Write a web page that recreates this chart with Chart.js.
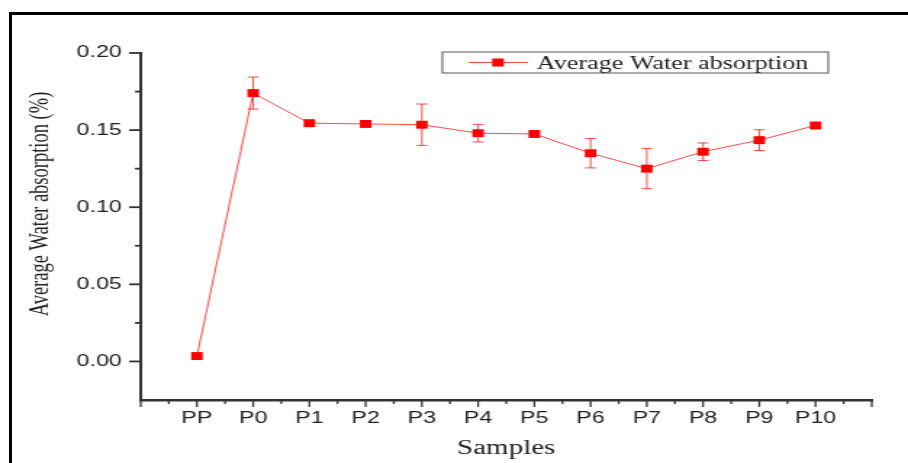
<!DOCTYPE html>
<html>
<head>
<meta charset="utf-8">
<script src="https://cdn.jsdelivr.net/npm/chart.js@4/dist/chart.umd.min.js"></script>
<style>
  html, body { margin: 0; padding: 0; background: #fff; }
  body { width: 908px; height: 463px; overflow: hidden; position: relative; }
  /* the source figure is stretched sideways, so draw narrow and stretch */
  #stretch { position: absolute; left: 0; top: 0; width: 626px; height: 463px; transform: scaleX(1.4505); transform-origin: 0 0; }
  #frame { position: absolute; left: 9px; top: 12px; right: -10px; bottom: -10px; border-top: 3.5px solid #000; border-left: 3.5px solid #000; pointer-events: none; }
</style>
</head>
<body>
<div id="stretch"><canvas id="chart" width="626" height="463" style="width:626px;height:463px"></canvas></div>
<div id="frame"></div>
<script>
const samples = ['PP', 'P0', 'P1', 'P2', 'P3', 'P4', 'P5', 'P6', 'P7', 'P8', 'P9', 'P10'];
const avgAbsorption = [0.0035, 0.174, 0.1545, 0.154, 0.1535, 0.148, 0.1475, 0.135, 0.125, 0.136, 0.1435, 0.153];
const absorptionErr = [0.001, 0.0104, 0.0015, 0.0015, 0.0134, 0.0057, 0.0015, 0.0095, 0.013, 0.0057, 0.0067, 0.0015];
const yTicks = [0, 0.05, 0.10, 0.15, 0.20];

const seriesName = 'Average Water absorption';
const yTitle = 'Average Water absorption (%)';
const xTitle = 'Samples';

const RED = '#ff0000';
const LINE_RED = 'rgba(255,30,30,0.8)';
const INK = '#222';

// error bars, drawn under the markers
const errorBars = {
  id: 'errorBars',
  beforeDatasetsDraw(chart) {
    const { ctx, scales: { x, y } } = chart;
    ctx.save();
    ctx.strokeStyle = LINE_RED;
    ctx.lineWidth = 1;
    avgAbsorption.forEach((v, i) => {
      const e = absorptionErr[i];
      const px = x.getPixelForValue(i + 1);
      const top = y.getPixelForValue(v + e);
      const bot = y.getPixelForValue(v - e);
      ctx.beginPath();
      ctx.moveTo(px, top); ctx.lineTo(px, bot);
      ctx.moveTo(px - 3.8, top); ctx.lineTo(px + 3.8, top);
      ctx.moveTo(px - 3.8, bot); ctx.lineTo(px + 3.8, bot);
      ctx.stroke();
    });
    ctx.restore();
  }
};

// Origin-style tick marks (major + minor, outward)
const axisTicks = {
  id: 'axisTicks',
  afterDraw(chart) {
    const { ctx, chartArea: a, scales: { x, y } } = chart;
    ctx.save();
    ctx.strokeStyle = '#333';
    ctx.lineWidth = 1.8;
    for (let k = 1; k <= 9; k++) {
      const py = y.getPixelForValue(-0.025 + k * 0.025);
      const len = k % 2 ? 8 : 4;
      ctx.beginPath(); ctx.moveTo(a.left, py); ctx.lineTo(a.left - len, py); ctx.stroke();
    }
    ctx.lineWidth = 1.3;
    for (let k = 0; k <= 26; k++) {
      const px = x.getPixelForValue(k * 0.5);
      const len = k % 2 ? 4 : 7;
      ctx.beginPath(); ctx.moveTo(px, a.bottom); ctx.lineTo(px, a.bottom + len); ctx.stroke();
    }
    ctx.restore();
  }
};

// axis titles and boxed legend
const labels = {
  id: 'labels',
  afterDraw(chart) {
    const { ctx, chartArea: a } = chart;
    ctx.save();
    ctx.fillStyle = INK;
    ctx.font = '18.5px "Liberation Serif"';
    ctx.textAlign = 'center';
    ctx.textBaseline = 'alphabetic';
    ctx.translate(33, 204);
    ctx.rotate(-Math.PI / 2);
    ctx.fillText(yTitle, 0, 0);
    ctx.restore();

    ctx.save();
    ctx.fillStyle = INK;
    ctx.font = '20px "Liberation Serif"';
    ctx.textAlign = 'center';
    ctx.textBaseline = 'alphabetic';
    ctx.fillText(xTitle, (a.left + a.right) / 2, 454);

    // legend
    ctx.strokeStyle = '#555';
    ctx.lineWidth = 1;
    ctx.strokeRect(305, 52, 266, 21);
    ctx.strokeStyle = LINE_RED;
    ctx.beginPath(); ctx.moveTo(323, 62.5); ctx.lineTo(364, 62.5); ctx.stroke();
    ctx.fillStyle = RED;
    ctx.fillRect(339.3, 58.5, 8, 8);
    ctx.fillStyle = INK;
    ctx.font = '18px "Liberation Serif"';
    ctx.textAlign = 'left';
    ctx.fillText(seriesName, 370, 68.5);
    ctx.restore();
  }
};

new Chart(document.getElementById('chart'), {
  type: 'line',
  data: {
    datasets: [{
      label: seriesName,
      data: avgAbsorption.map((v, i) => ({ x: i + 1, y: v })),
      borderColor: LINE_RED,
      borderWidth: 1,
      pointStyle: 'rect',
      pointRadius: 5.6,
      pointBorderWidth: 0,
      pointBackgroundColor: RED,
      tension: 0,
    }],
  },
  options: {
    responsive: false,
    animation: false,
    devicePixelRatio: 1,
    layout: { padding: { top: 53, right: 25, left: 0, bottom: 0 } },
    plugins: { legend: { display: false }, tooltip: { enabled: false } },
    scales: {
      x: {
        type: 'linear', min: 0, max: 13,
        afterBuildTicks: s => { s.ticks = samples.map((_, i) => ({ value: i + 1 })); },
        afterFit: s => { s.height = 63; },
        grid: { display: false, drawTicks: false },
        border: { display: true, color: '#333', width: 2.5 },
        ticks: {
          autoSkip: false, maxRotation: 0, padding: 9, color: INK,
          font: { family: 'Liberation Sans', size: 16 },
          callback: v => samples[Math.round(v) - 1] ?? '',
        },
      },
      y: {
        min: -0.025, max: 0.2,
        afterBuildTicks: s => { s.ticks = yTicks.map(v => ({ value: v })); },
        afterFit: s => { s.width = 97; },
        grid: { display: false, drawTicks: false },
        border: { display: true, color: '#333', width: 2 },
        ticks: {
          padding: 13, color: INK,
          font: { family: 'Liberation Sans', size: 16 },
          callback: v => v.toFixed(2),
        },
      },
    },
  },
  plugins: [errorBars, axisTicks, labels],
});
</script>
</body>
</html>
